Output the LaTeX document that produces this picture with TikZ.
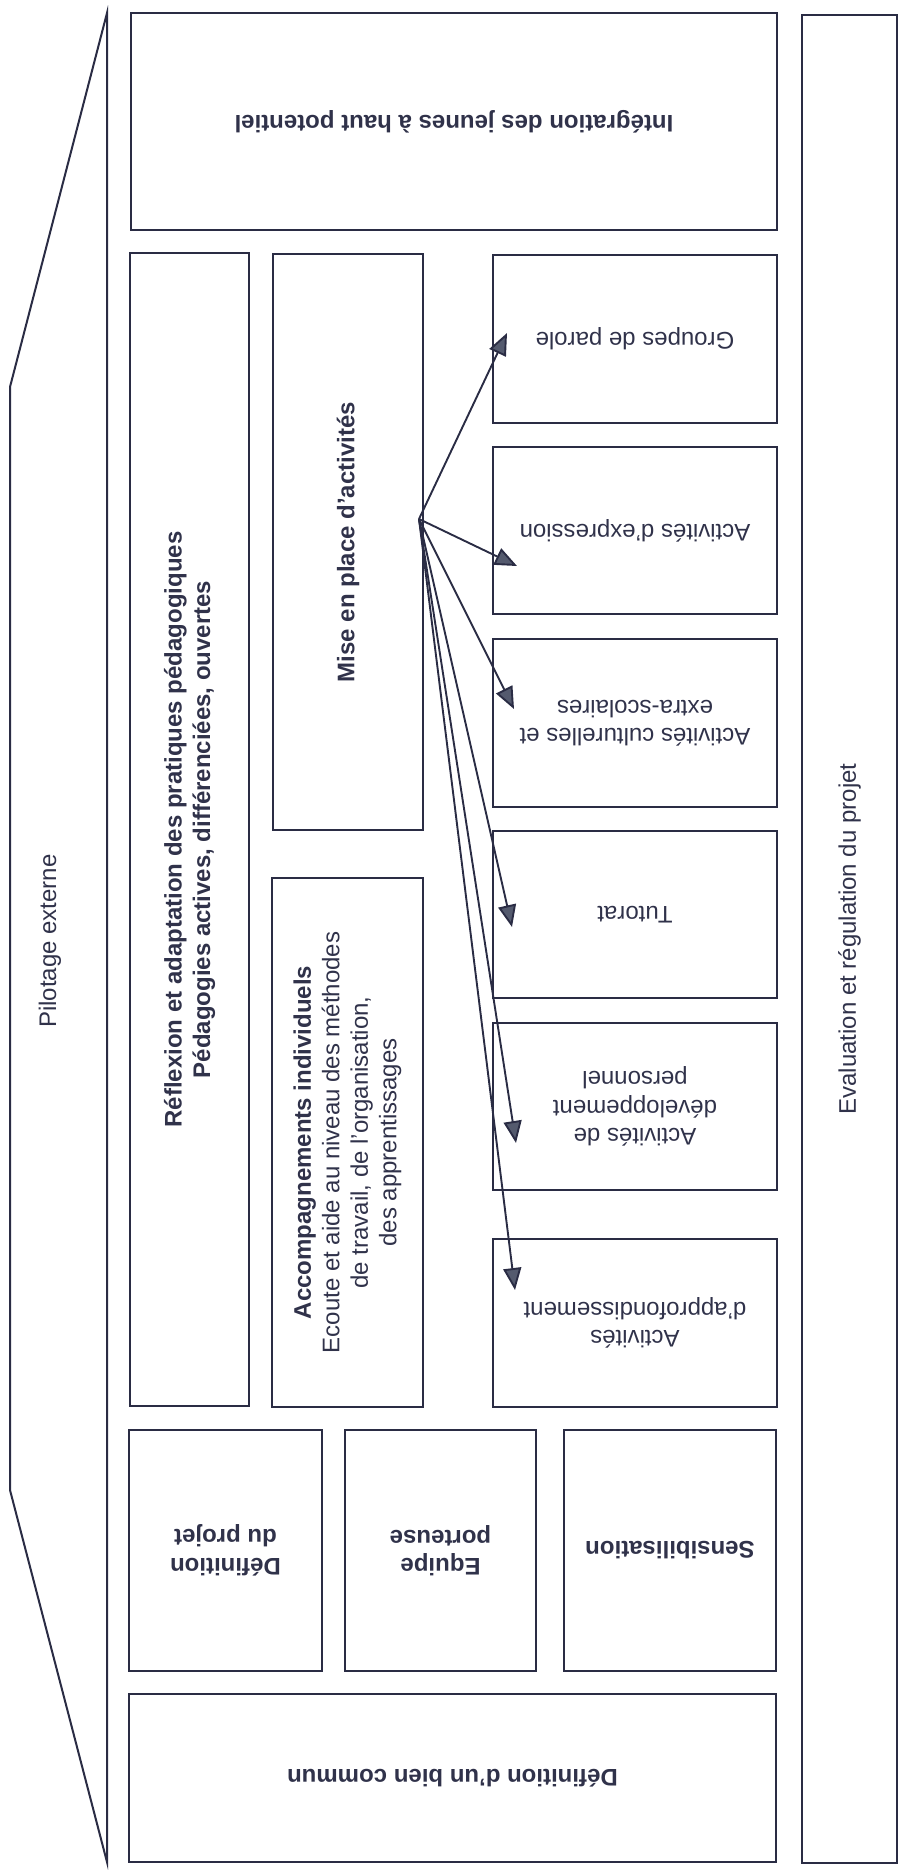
\documentclass[tikz,border=0pt]{standalone}
\usepackage{fontspec}
\setmainfont{Liberation Sans}
\usetikzlibrary{arrows.meta}
\definecolor{linec}{RGB}{42,44,68}
\definecolor{textc}{RGB}{48,50,74}
\definecolor{tipfill}{RGB}{84,90,110}
\tikzset{
  box/.style={draw=linec, line width=2.2pt, rectangle, inner sep=4pt, align=center,
    text=textc, font=\fontsize{24}{28.5}\selectfont},
  bbox/.style={box, font=\fontsize{24}{28.5}\selectfont\bfseries},
  lbl/.style={text=textc, font=\fontsize{24}{28.5}\selectfont, align=center, inner sep=0pt},
  arr/.style={draw=linec, line width=1.9pt, -{Triangle[length=22pt,width=18pt,fill=tipfill]}}
}
\begin{document}
\begin{tikzpicture}[x=1pt,y=-1pt]
\useasboundingbox (0,0) rectangle (899,1876);
% Pilotage externe frame
\draw[draw=linec, line width=2pt, line join=miter] (107,13) -- (10,387) -- (10,1490) -- (107,1862) -- cycle;
\node[lbl, rotate=90] (pilot) at (50,941) {Pilotage externe};
% top and bottom
\node[bbox, rotate=180, minimum width=646pt, minimum height=217pt] (integ) at (454,121.5) {Intégration des jeunes à haut potentiel};
\node[bbox, rotate=180, minimum width=647pt, minimum height=168pt] (bien) at (452.5,1778) {Définition d'un bien commun};
% right evaluation
\node[box, rotate=90, minimum width=1848pt, minimum height=95pt] (eval) at (849.5,939) {Evaluation et régulation du projet};
% left column
\node[bbox, rotate=90, minimum width=1153pt, minimum height=119pt] (reflex) at (189.5,829.5) {Réflexion et adaptation des pratiques pédagogiques\\Pédagogies actives, différenciées, ouvertes};
\node[bbox, rotate=90, minimum width=576pt, minimum height=150pt] (mise) at (348,542) {Mise en place d'activités};
\node[box, rotate=90, minimum width=529pt, minimum height=151pt] (accomp) at (347.5,1142.5) {\textbf{Accompagnements individuels}\\Ecoute et aide au niveau des méthodes\\de travail, de l'organisation,\\des apprentissages};
% lower row
\node[bbox, rotate=180, minimum width=193pt, minimum height=241pt] (defproj) at (225.5,1550.5) {Définition\\du projet};
\node[bbox, rotate=180, minimum width=191pt, minimum height=241pt] (equipe) at (440.5,1550.5) {Equipe\\porteuse};
\node[bbox, rotate=180, minimum width=212pt, minimum height=241pt] (sensib) at (670,1550.5) {Sensibilisation};
% activities
\node[box, rotate=180, minimum width=284pt, minimum height=168pt] (groupes) at (635,339) {Groupes de parole};
\node[box, rotate=180, minimum width=284pt, minimum height=167pt] (expr) at (635,530.5) {Activités d'expression};
\node[box, rotate=180, minimum width=284pt, minimum height=168pt] (cult) at (635,723) {Activités culturelles et\\extra-scolaires};
\node[box, rotate=180, minimum width=284pt, minimum height=167pt] (tutorat) at (635,914.5) {Tutorat};
\node[box, rotate=180, minimum width=284pt, minimum height=167pt] (dev) at (635,1106.5) {Activités de\\développement\\personnel};
\node[box, rotate=180, minimum width=284pt, minimum height=168pt] (appro) at (635,1323) {Activités\\d'approfondissement};
% arrows
\coordinate (src) at (419,519);
\coordinate (tG) at (507,333);
\coordinate (tE) at (517,566);
\coordinate (tC) at (514,709);
\coordinate (tT) at (512,927);
\coordinate (tD) at (516,1143);
\coordinate (tA) at (515,1290);
\foreach \t in {tG,tE,tC,tT,tD,tA} \draw[arr] (src) -- (\t);
\end{tikzpicture}
\end{document}
